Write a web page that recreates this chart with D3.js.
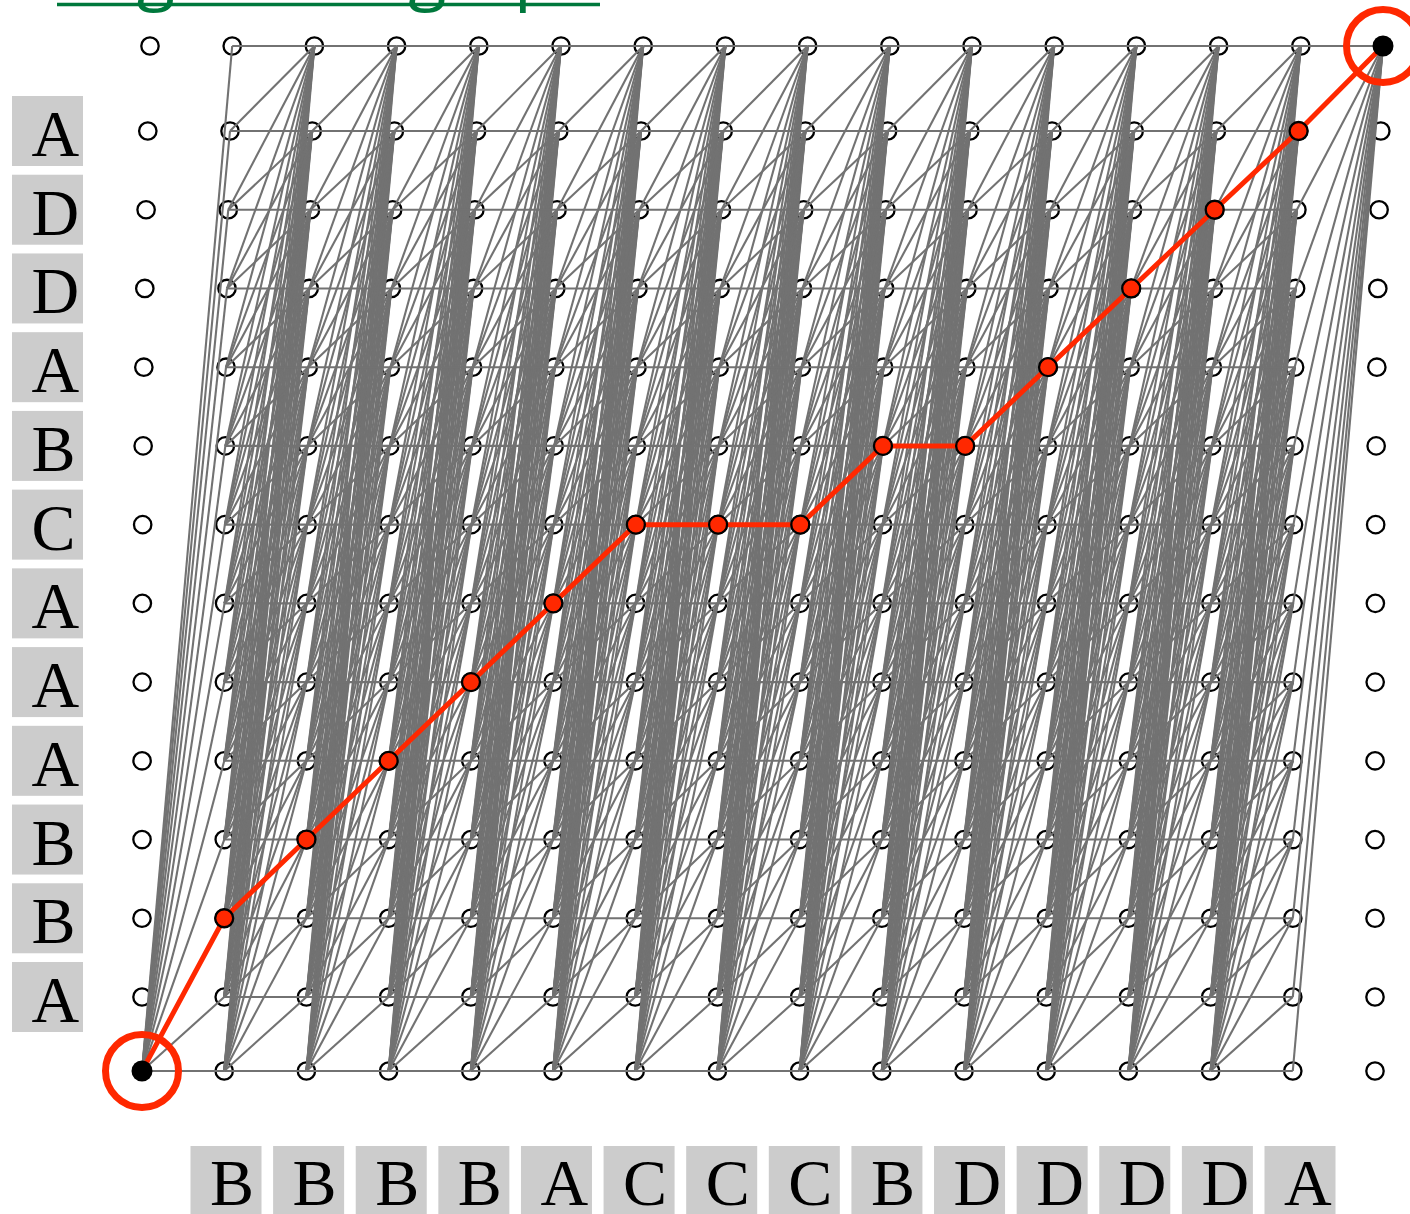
<!DOCTYPE html>
<html>
<head>
<meta charset="utf-8">
<script src="https://cdn.jsdelivr.net/npm/d3@7"></script>
<style>
  html, body { margin: 0; padding: 0; background: #fff; }
  svg { display: block; }
  .lbl { font-family: "Liberation Serif", "Times New Roman", Times, serif; }
</style>
</head>
<body>
<svg id="chart" width="1410" height="1214"></svg>
<script>
// ---- data ----
const titleText = "Alignment graph";
const colLabels = ["B","B","B","B","A","C","C","C","B","D","D","D","D","A"];   // columns 1..14
const rowLabels = ["A","B","B","A","A","A","C","B","A","D","D","A"];           // rows 1..12 (bottom to top)
const pathRows  = [0,2,3,4,5,6,7,7,7,8,8,9,10,11,12,13];                        // best path row per column 0..15

const nCols = colLabels.length + 2;   // 16
const nRows = rowLabels.length + 2;   // 14

const svg = d3.select("#chart");

// ---- scales ----
const rowLabelY = d3.scaleLinear().domain([1, rowLabels.length]).range([997, 131]);
const colLabelX = d3.scaleLinear().domain([1, colLabels.length]).range([226, 1300]);

const x = d3.scaleLinear().domain([0, nCols - 1]).range([142, 1375]);
const y = d3.scaleLinear()
  .domain([0, 1, rowLabels.length, nRows - 1])
  .range([1071, rowLabelY(1), rowLabelY(rowLabels.length), 46]);
const skew = d3.scalePow().exponent(4).domain([0, nRows - 1]).range([0, 8]);
const px = (c, r) => x(c) + skew(r);
const py = (c, r) => y(r);

const red = "#ff2800";
const gray = "#727272";

// ---- title (mostly above the visible area) ----
svg.append("text")
  .attr("x", 57).attr("y", -4)
  .attr("font-family", "'Open Sans', sans-serif")
  .attr("font-size", 70)
  .attr("fill", "#00783c")
  .attr("textLength", 543)
  .attr("lengthAdjust", "spacingAndGlyphs")
  .text(titleText);
svg.append("line")
  .attr("x1", 57).attr("x2", 600).attr("y1", 4.5).attr("y2", 4.5)
  .attr("stroke", "#00783c").attr("stroke-width", 3.5);

// ---- nodes (drawn below edges) ----
const nodes = [];
for (let c = 0; c < nCols; c++) for (let r = 0; r < nRows; r++) nodes.push({c, r});
svg.append("g").selectAll("circle").data(nodes).join("circle")
  .attr("cx", d => px(d.c, d.r)).attr("cy", d => py(d.c, d.r))
  .attr("r", 8.7)
  .attr("fill", "#fff").attr("stroke", "#000").attr("stroke-width", 2.3);

// ---- edges ----
const edges = [];
for (let r2 = 0; r2 < nRows; r2++) edges.push({c1: 0, r1: 0, c2: 1, r2});
for (let c = 1; c + 1 <= nCols - 2; c++) {
  for (let r = 0; r < nRows; r++) for (let r2 = r; r2 < nRows; r2++) {
    edges.push({c1: c, r1: r, c2: c + 1, r2});
  }
}
for (let r = 0; r < nRows; r++) edges.push({c1: nCols - 2, r1: r, c2: nCols - 1, r2: nRows - 1});

svg.append("g").selectAll("line").data(edges).join("line")
  .attr("x1", d => px(d.c1, d.r1)).attr("y1", d => py(d.c1, d.r1))
  .attr("x2", d => px(d.c2, d.r2)).attr("y2", d => py(d.c2, d.r2))
  .attr("stroke", gray).attr("stroke-width", 2.1);

// ---- best path ----
const pathPts = pathRows.map((r, c) => ({c, r}));
svg.append("path")
  .datum(pathPts)
  .attr("d", d3.line().x(d => px(d.c, d.r)).y(d => py(d.c, d.r)))
  .attr("fill", "none").attr("stroke", red).attr("stroke-width", 5)
  .attr("stroke-linejoin", "round");

svg.append("g").selectAll("circle").data(pathPts.slice(1, -1)).join("circle")
  .attr("cx", d => px(d.c, d.r)).attr("cy", d => py(d.c, d.r))
  .attr("r", 9)
  .attr("fill", red).attr("stroke", "#000").attr("stroke-width", 2.3);

const ends = [pathPts[0], pathPts[pathPts.length - 1]];
svg.append("g").selectAll("circle").data(ends).join("circle")
  .attr("cx", d => px(d.c, d.r)).attr("cy", d => py(d.c, d.r))
  .attr("r", 10.5).attr("fill", "#000");
svg.append("g").selectAll("circle").data(ends).join("circle")
  .attr("cx", d => px(d.c, d.r)).attr("cy", d => py(d.c, d.r))
  .attr("r", 36.5).attr("fill", "none").attr("stroke", red).attr("stroke-width", 7);

// ---- row labels ----
const rowG = svg.append("g").selectAll("g").data(rowLabels).join("g")
  .attr("transform", (d, i) => `translate(12,${rowLabelY(i + 1) - 35})`);
rowG.append("rect").attr("width", 71).attr("height", 70).attr("fill", "#cccccc");
rowG.append("text").attr("class", "lbl").attr("x", 19.5).attr("y", 60)
  .attr("font-size", 66).attr("fill", "#000").text(d => d);

// ---- column labels ----
const colG = svg.append("g").selectAll("g").data(colLabels).join("g")
  .attr("transform", (d, i) => `translate(${colLabelX(i + 1) - 35.5},1146)`);
colG.append("rect").attr("width", 71).attr("height", 80).attr("fill", "#cccccc");
colG.append("text").attr("class", "lbl").attr("x", 19.5).attr("y", 59)
  .attr("font-size", 66).attr("fill", "#000").text(d => d);
</script>
</body>
</html>
